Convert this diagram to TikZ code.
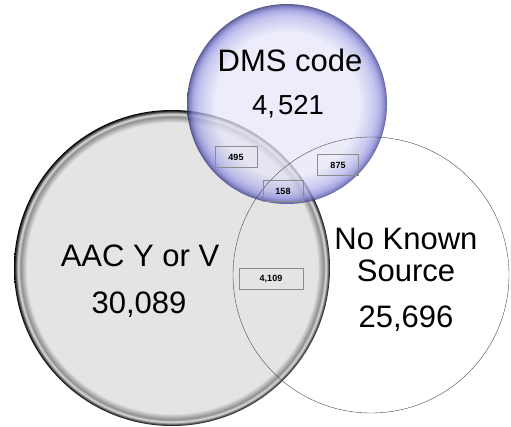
\documentclass[tikz,border=0pt]{standalone}
\usepackage{fontspec}
\setmainfont{Liberation Sans}
\usetikzlibrary{shapes}
\definecolor{aacfill}{RGB}{228,228,228}
\definecolor{dmsfill}{RGB}{230,230,248}
\definecolor{dmsrim}{RGB}{120,120,215}
\definecolor{dmsedge}{RGB}{35,35,105}
% circle edge sits at 25bp
\pgfdeclareradialshading{grayglass}{\pgfpoint{0bp}{0bp}}{color(0bp)=(aacfill); color(23bp)=(aacfill); color(24bp)=(black!45); color(24.35bp)=(white!90!black); color(24.65bp)=(black!55); color(25bp)=(black); color(50bp)=(black)}
\pgfdeclareradialshading{blueglass}{\pgfpoint{0bp}{0bp}}{color(0bp)=(dmsfill); color(18bp)=(dmsfill); color(22bp)=(dmsrim!45!dmsfill); color(23.5bp)=(dmsrim!80!dmsfill); color(24.5bp)=(dmsrim!60!dmsedge); color(25bp)=(dmsedge); color(50bp)=(dmsedge)}
\tikzstyle{bigset}=[circle,inner sep=0pt]
\tikzstyle{settitle}=[anchor=base,inner sep=0pt,font=\fontsize{31}{36}\selectfont]
\tikzstyle{countbox}=[draw=black!45,thin,inner sep=0pt,minimum height=21pt,font=\fontsize{9}{10}\selectfont\bfseries]

\begin{document}
\begin{tikzpicture}[x=1pt,y=-1pt]
    \useasboundingbox (0,0) rectangle (511,427);

    % the three sets
    \node[bigset, fill=white, minimum size=276pt] (nksback) at (371,275) {};
    \node[bigset, shading=grayglass, minimum size=316pt] (aac) at (172,268) {};
    \node[bigset, shading=blueglass, fill opacity=0.75, minimum size=200pt] (dms) at (287,104) {};
    \node[bigset, draw=black!70, minimum size=276pt] (nks) at (371,275) {};

    % set names and totals
    \node[settitle] (dmsname) at (290,72) {DMS code};
    \node[settitle, font=\fontsize{27.5}{30}\selectfont] (dmstotal) at (288,115) {4,\kern3pt521};
    \node[settitle] (aacname) at (140,267) {AAC Y or V};
    \node[settitle] (aactotal) at (139,314) {30,089};
    \node[settitle] (nksname) at (406,250) {No Known};
    \node[settitle] (nkssrc) at (406,282) {Source};
    \node[settitle] (nkstotal) at (406,328) {25,696};

    % overlap counts
    \foreach \pos/\name/\txt/\w in {{(236,157)/dmsaac/495/42}, {(338,165)/dmsnks/875/41}, {(283,191)/all/158/40}, {(271,279)/aacnks/{4,109}/64}}
        \node[countbox, minimum width=\w pt] (\name) at \pos {\txt};

\end{tikzpicture}
\end{document}
